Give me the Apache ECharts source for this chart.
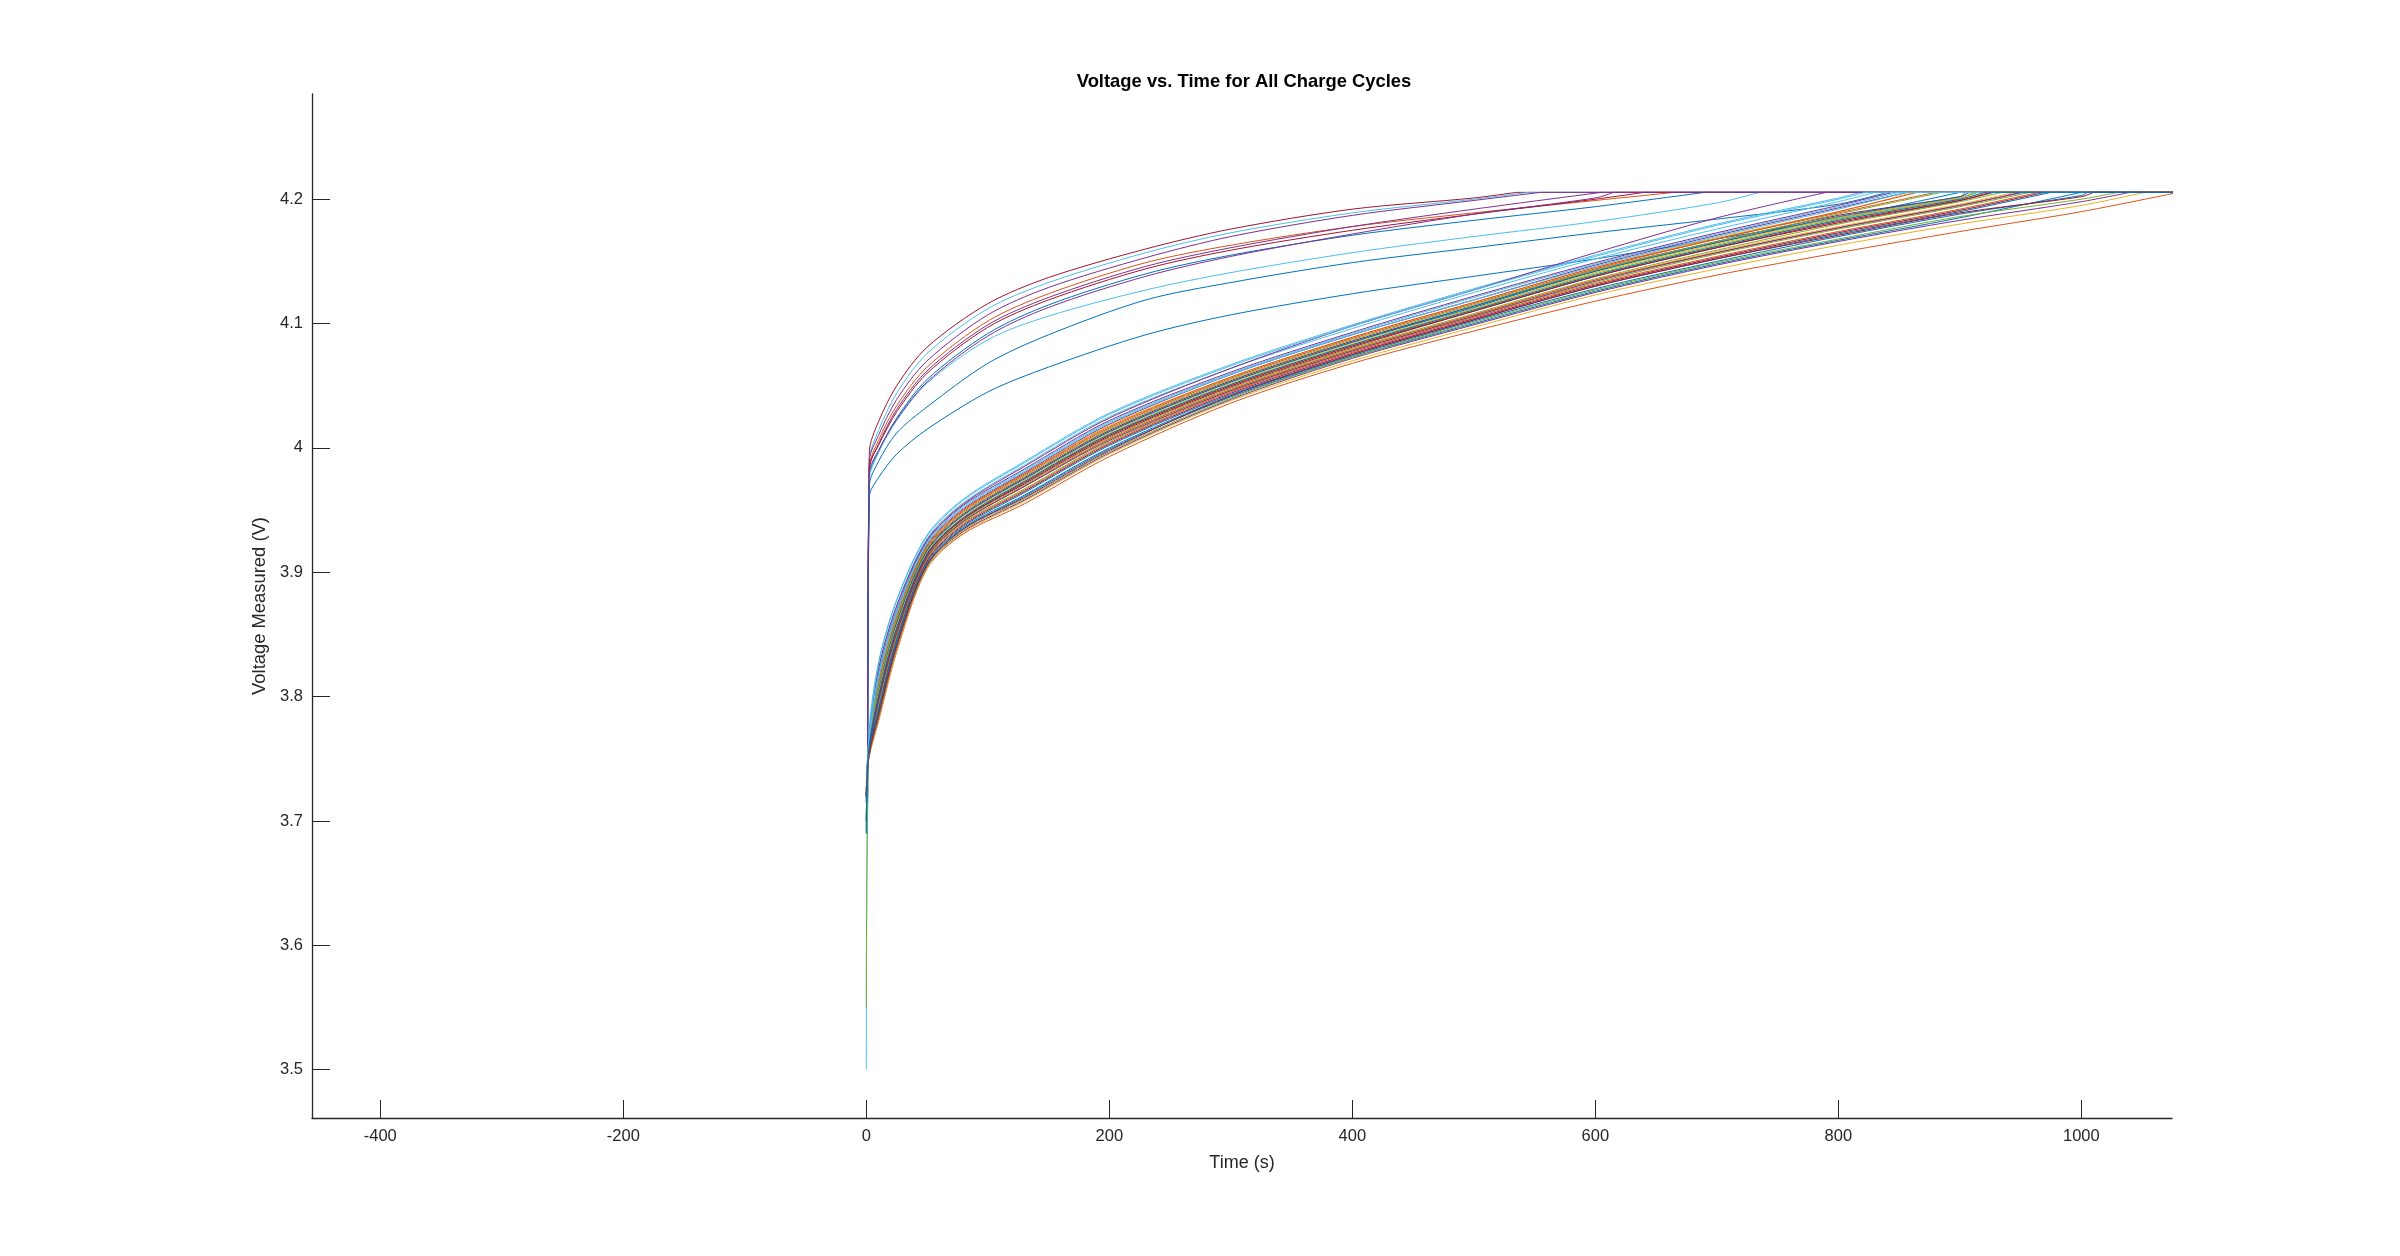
<!DOCTYPE html>
<html>
<head>
<meta charset="utf-8">
<script src="https://cdn.jsdelivr.net/npm/echarts@6/dist/echarts.min.js"></script>
<style>
html,body{margin:0;padding:0;background:#fff;}
#chart{width:2400px;height:1256px;}
</style>
</head>
<body>
<div id="chart"></div>
<script>
// ---------------- data ----------------
const xTickValues = [-400, -200, 0, 200, 400, 600, 800, 1000];
const yTickValues = [3.5, 3.6, 3.7, 3.8, 3.9, 4.0, 4.1, 4.2];

const plateauVoltage = 4.2055;   // constant-voltage level (V)
const chargeEndTime = 1100;      // last sample time of each cycle (s)

// early (fresh) cycles: sample times and voltages
const freshTimes = [1, 2.5, 10, 25, 50, 100, 150, 230, 300, 400, 500, 600, 700, 800];
const freshVoltages = [
  [3.72, 3.997, 4.021, 4.050, 4.081, 4.116, 4.137, 4.160, 4.176, 4.192, 4.201],
  [3.72, 3.990, 4.014, 4.044, 4.076, 4.112, 4.133, 4.157, 4.173, 4.189, 4.200],
  [3.72, 3.990, 4.010, 4.039, 4.070, 4.107, 4.129, 4.153, 4.170, 4.187, 4.199],
  [3.72, 3.985, 4.006, 4.034, 4.065, 4.102, 4.124, 4.149, 4.163, 4.178, 4.189, 4.199],
  [3.71, 3.983, 4.003, 4.031, 4.062, 4.099, 4.121, 4.146, 4.161, 4.178, 4.192],
  [3.72, 3.985, 4.002, 4.029, 4.060, 4.097, 4.119, 4.144, 4.159, 4.175, 4.188, 4.200],
  [3.70, 3.978, 3.997, 4.024, 4.055, 4.092, 4.115, 4.140, 4.155, 4.171, 4.183, 4.194],
  [3.72, 3.975, 3.996, 4.022, 4.052, 4.087, 4.106, 4.127, 4.141, 4.157, 4.170, 4.182, 4.197],
  [3.70, 3.970, 3.989, 4.012, 4.033, 4.068, 4.091, 4.119, 4.133, 4.149, 4.161, 4.173, 4.184, 4.196],
  [3.69, 3.961, 3.976, 3.995, 4.015, 4.045, 4.065, 4.091, 4.107, 4.124, 4.138, 4.152, 4.168, 4.185],
  [3.72, 3.980, 3.998, 4.023, 4.053, 4.090, 4.113, 4.138, 4.154, 4.172, 4.188, 4.201]
];
const freshEndTimes = [535, 545, 555, 665, 605, 640, 690, 735, 840, 900, 615];

// later (aged) cycles
const agedTimes = [0, 2, 10, 25, 50, 80, 130, 200, 300, 400, 500, 600, 700, 800, 900, 1000];
const agedVoltages = [
  [3.715, 3.758, 3.803, 3.858, 3.917, 3.946, 3.975, 4.013, 4.053, 4.085, 4.113, 4.142, 4.165, 4.185, 4.201],
  [3.725, 3.754, 3.792, 3.848, 3.910, 3.939, 3.966, 4.004, 4.045, 4.077, 4.105, 4.132, 4.154, 4.174, 4.192],
  [3.72, 3.757, 3.799, 3.855, 3.914, 3.943, 3.972, 4.010, 4.050, 4.082, 4.111, 4.139, 4.162, 4.183, 4.200],
  [3.718, 3.761, 3.813, 3.867, 3.922, 3.951, 3.980, 4.019, 4.059, 4.091, 4.119, 4.147, 4.171, 4.193],
  [3.73, 3.756, 3.797, 3.852, 3.913, 3.942, 3.970, 4.008, 4.048, 4.080, 4.108, 4.136, 4.159, 4.180, 4.198],
  [3.50, 3.766, 3.827, 3.878, 3.930, 3.959, 3.989, 4.028, 4.067, 4.099, 4.128, 4.155, 4.180, 4.201],
  [3.72, 3.759, 3.805, 3.860, 3.918, 3.947, 3.976, 4.014, 4.054, 4.086, 4.114, 4.143, 4.166, 4.187, 4.202],
  [3.69, 3.752, 3.787, 3.843, 3.907, 3.936, 3.962, 4.000, 4.042, 4.074, 4.102, 4.128, 4.150, 4.170, 4.188, 4.203],
  [3.72, 3.760, 3.809, 3.863, 3.920, 3.949, 3.978, 4.016, 4.056, 4.088, 4.116, 4.144, 4.168, 4.189],
  [3.725, 3.755, 3.795, 3.850, 3.912, 3.941, 3.969, 4.007, 4.047, 4.079, 4.107, 4.135, 4.158, 4.178, 4.196],
  [3.72, 3.763, 3.818, 3.870, 3.925, 3.954, 3.983, 4.022, 4.061, 4.093, 4.122, 4.149, 4.173, 4.195],
  [3.55, 3.757, 3.801, 3.856, 3.915, 3.944, 3.973, 4.011, 4.051, 4.083, 4.112, 4.140, 4.163, 4.184, 4.201],
  [3.715, 3.764, 3.822, 3.873, 3.927, 3.956, 3.986, 4.025, 4.064, 4.096, 4.125, 4.152, 4.176, 4.198],
  [3.72, 3.753, 3.790, 3.846, 3.909, 3.938, 3.965, 4.003, 4.044, 4.076, 4.104, 4.131, 4.153, 4.173, 4.191],
  [3.70, 3.758, 3.804, 3.859, 3.917, 3.946, 3.975, 4.013, 4.053, 4.085, 4.114, 4.142, 4.165, 4.186, 4.202],
  [3.725, 3.756, 3.796, 3.851, 3.912, 3.941, 3.969, 4.007, 4.047, 4.079, 4.107, 4.135, 4.157, 4.177, 4.195],
  [3.72, 3.761, 3.811, 3.865, 3.921, 3.950, 3.979, 4.018, 4.057, 4.089, 4.117, 4.145, 4.169, 4.190],
  [3.72, 3.765, 3.822, 3.873, 3.926, 3.955, 3.985, 4.024, 4.064, 4.098, 4.127, 4.157, 4.185],
  [3.725, 3.754, 3.793, 3.849, 3.911, 3.940, 3.967, 4.005, 4.046, 4.078, 4.106, 4.133, 4.156, 4.176, 4.194],
  [3.72, 3.763, 3.817, 3.869, 3.924, 3.953, 3.982, 4.021, 4.060, 4.092, 4.121, 4.148, 4.172, 4.194],
  [3.72, 3.757, 3.800, 3.855, 3.914, 3.943, 3.972, 4.010, 4.050, 4.082, 4.110, 4.138, 4.161, 4.182, 4.199],
  [3.69, 3.753, 3.789, 3.845, 3.908, 3.937, 3.964, 4.002, 4.043, 4.075, 4.103, 4.130, 4.152, 4.172, 4.190],
  [3.72, 3.761, 3.810, 3.864, 3.921, 3.950, 3.979, 4.017, 4.057, 4.089, 4.117, 4.145, 4.168, 4.190],
  [3.725, 3.758, 3.802, 3.857, 3.916, 3.945, 3.974, 4.012, 4.052, 4.084, 4.112, 4.141, 4.164, 4.185, 4.201],
  [3.72, 3.755, 3.796, 3.851, 3.912, 3.941, 3.969, 4.006, 4.046, 4.078, 4.106, 4.134, 4.157, 4.177, 4.195],
  [3.725, 3.759, 3.807, 3.862, 3.919, 3.948, 3.977, 4.015, 4.055, 4.087, 4.115, 4.143, 4.166, 4.188],
  [3.72, 3.765, 3.826, 3.877, 3.929, 3.958, 3.988, 4.027, 4.066, 4.098, 4.127, 4.154, 4.179, 4.200],
  [3.715, 3.757, 3.799, 3.854, 3.914, 3.943, 3.971, 4.009, 4.049, 4.081, 4.110, 4.138, 4.161, 4.181, 4.199],
  [3.70, 3.752, 3.786, 3.842, 3.906, 3.935, 3.961, 3.999, 4.041, 4.073, 4.100, 4.126, 4.148, 4.167, 4.185],
  [3.72, 3.750, 3.780, 3.836, 3.903, 3.931, 3.955, 3.993, 4.036, 4.068, 4.094, 4.118, 4.139, 4.157, 4.174, 4.190],
  [3.725, 3.750, 3.781, 3.837, 3.904, 3.932, 3.957, 3.995, 4.038, 4.070, 4.097, 4.123, 4.144, 4.163, 4.180, 4.195],
  [3.72, 3.751, 3.783, 3.839, 3.905, 3.933, 3.958, 3.996, 4.039, 4.072, 4.099, 4.125, 4.147, 4.166, 4.183, 4.198],
  [3.72, 3.751, 3.784, 3.840, 3.905, 3.934, 3.959, 3.997, 4.040, 4.073, 4.101, 4.127, 4.149, 4.168, 4.186, 4.200],
  [3.72, 3.762, 3.814, 3.867, 3.923, 3.952, 3.981, 4.020, 4.059, 4.091, 4.119, 4.146, 4.170, 4.192],
  [3.72, 3.752, 3.785, 3.841, 3.906, 3.935, 3.960, 3.998, 4.042, 4.075, 4.103, 4.130, 4.152, 4.171, 4.189, 4.202],
  [3.70, 3.757, 3.800, 3.855, 3.915, 3.944, 3.973, 4.011, 4.051, 4.083, 4.111, 4.139, 4.162, 4.183, 4.200]
];
const agedEndTimes = [912, 965, 922, 857, 935, 818, 905, 1005, 880, 945, 845, 915, 830, 970, 908, 950,
  862, 790, 958, 850, 925, 975, 865, 912, 952, 885, 822, 928, 1000, 1080, 1052, 1040, 1030, 856, 1010, 920];

// ---------------- styling ----------------
const matlabColors = ['#0072BD', '#D95319', '#EDB120', '#7E2F8E', '#77AC30', '#4DBEEE', '#A2142F'];
const freshColorIdx = [6, 5, 3, 1, 3, 6, 0, 5, 0, 0, 3];
const FONT = '"Liberation Sans", Arial, Helvetica, sans-serif';
const AXIS_COLOR = '#262626';

// constant-current part of a cycle (rise up to the plateau)
function risePart(times, volts, endTime) {
  const pts = [];
  for (let j = 0; j < volts.length && j < times.length; j++) {
    if (times[j] < endTime) pts.push([times[j], volts[j]]);
  }
  pts.push([endTime, plateauVoltage]);
  return pts;
}
// constant-voltage part of a cycle
function plateauPart(endTime) {
  return [[endTime, plateauVoltage], [chargeEndTime, plateauVoltage]];
}

function lineSeries(data, color, smooth) {
  return {
    type: 'line', showSymbol: false, silent: true, animation: false,
    smooth: smooth,
    data: data,
    lineStyle: { width: 1, color: color }
  };
}

const series = [];
freshVoltages.forEach((row, i) => {
  const c = matlabColors[freshColorIdx[i]];
  series.push(lineSeries(risePart(freshTimes, row, freshEndTimes[i]), c, 0.3));
  series.push(lineSeries(plateauPart(freshEndTimes[i]), c, false));
});
agedVoltages.forEach((row, k) => {
  const c = matlabColors[k % 7];
  series.push(lineSeries(risePart(agedTimes, row, agedEndTimes[k]), c, 0.3));
  series.push(lineSeries(plateauPart(agedEndTimes[k]), c, false));
});

const chart = echarts.init(document.getElementById('chart'));
chart.setOption({
  backgroundColor: '#ffffff',
  animation: false,
  title: {
    text: 'Voltage vs. Time for All Charge Cycles',
    left: 1239, top: 68, textAlign: 'center',
    textStyle: { fontFamily: FONT, fontSize: 18.4, fontWeight: 'bold', color: '#000000' }
  },
  grid: { left: 312, right: 228, top: 94, bottom: 138, containLabel: false },
  xAxis: {
    type: 'value', min: -456.2, max: 1074.6,
    name: 'Time (s)', nameLocation: 'middle', nameGap: 36,
    nameTextStyle: { fontFamily: FONT, fontSize: 18, color: AXIS_COLOR },
    axisLine: { show: true, onZero: false, lineStyle: { color: AXIS_COLOR, width: 1.3 } },
    axisTick: { show: true, inside: true, length: 18, customValues: xTickValues, lineStyle: { color: AXIS_COLOR, width: 1 } },
    axisLabel: {
      customValues: xTickValues, margin: 10, fontFamily: FONT, fontSize: 16.5, color: AXIS_COLOR,
      formatter: v => String(Math.round(v))
    },
    splitLine: { show: false }
  },
  yAxis: {
    type: 'value', min: 3.4612, max: 4.2846,
    name: 'Voltage Measured (V)', nameLocation: 'middle', nameGap: 33, nameRotate: 90,
    nameTextStyle: { fontFamily: FONT, fontSize: 18.4, color: AXIS_COLOR },
    axisLine: { show: true, onZero: false, lineStyle: { color: AXIS_COLOR, width: 1.3 } },
    axisTick: { show: true, inside: true, length: 18, customValues: yTickValues, lineStyle: { color: AXIS_COLOR, width: 1 } },
    axisLabel: {
      customValues: yTickValues, margin: 9, fontFamily: FONT, fontSize: 16.5, color: AXIS_COLOR,
      formatter: v => String(Number(v.toFixed(1)))
    },
    splitLine: { show: false }
  },
  series: series
});
</script>
</body>
</html>
